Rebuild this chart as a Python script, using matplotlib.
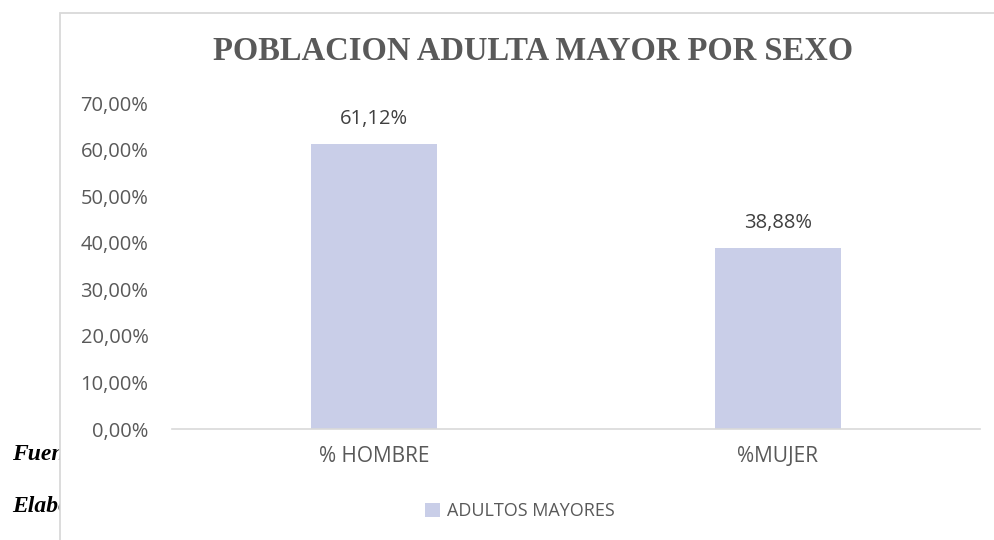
import matplotlib
matplotlib.use("Agg")
import matplotlib.pyplot as plt
from matplotlib.patches import Rectangle
from matplotlib.ticker import FuncFormatter

categories = ["% HOMBRE", "%MUJER"]
values = [0.6112, 0.3888]
value_labels = ["61,12%", "38,88%"]
y_ticks = [0.0, 0.1, 0.2, 0.3, 0.4, 0.5, 0.6, 0.7]
series_name = "ADULTOS MAYORES"
title = "POBLACION ADULTA MAYOR POR SEXO"
side_notes = ["Fuente:", "Elaboración:"]

W, H = 994, 540
bar_color = "#C9CEE8"
text_gray = "#595959"
frame_gray = "#D9D9D9"
sans = ["Open Sans", "DejaVu Sans"]

fig = plt.figure(figsize=(W / 100, H / 100), dpi=100)

# document text that sits behind the chart frame
for note, ypix in zip(side_notes, [454, 507]):
    fig.text(12 / W, 1 - ypix / H, note, fontsize=17, family="Liberation Serif",
             weight="bold", style="italic", color="black", va="center", zorder=0.2)

# chart area (white with light border), covers the notes
frame = Rectangle((60 / W, -0.1), 1.0, (H - 13) / H + 0.1, transform=fig.transFigure,
                  facecolor="white", edgecolor=frame_gray, linewidth=1.3, zorder=0.5)
fig.patches.append(frame)

ax = fig.add_axes([172 / W, (H - 429) / H, (980 - 172) / W, (429 - 103) / H], zorder=1)
ax.patch.set_alpha(0)

x = list(range(len(categories)))
bars = ax.bar(x, values, width=0.31, color=bar_color, label=series_name, zorder=2)
ax.set_xlim(-0.5, len(categories) - 0.5)
ax.set_ylim(0, 0.7)
ax.set_yticks(y_ticks)
ax.yaxis.set_major_formatter(FuncFormatter(lambda v, p: f"{v * 100:.2f}%".replace(".", ",")))
ax.set_xticks(x)
ax.set_xticklabels(categories)

for b, lab in zip(bars, value_labels):
    ax.annotate(lab, (b.get_x() + b.get_width() / 2, b.get_height()), xytext=(0, 11),
                textcoords="offset points", ha="center", va="bottom",
                fontsize=14.5, family=sans, color="#404040")

for s in ["top", "right", "left"]:
    ax.spines[s].set_visible(False)
ax.spines["bottom"].set_color(frame_gray)
ax.spines["bottom"].set_linewidth(1.2)
ax.tick_params(axis="both", length=0, labelcolor=text_gray)
ax.tick_params(axis="y", pad=17, labelsize=14.5)
ax.tick_params(axis="x", pad=12, labelsize=15)
for t in ax.get_xticklabels() + ax.get_yticklabels():
    t.set_family(sans)

fig.text(533 / W, 1 - 52 / H, title, ha="center", va="center", fontsize=23.5,
         family="Liberation Serif", weight="bold", color=text_gray, zorder=2)

leg = fig.legend(handles=[bars], labels=[series_name], loc="center",
                 bbox_to_anchor=(520 / W, 1 - 511 / H), frameon=False,
                 prop={"family": sans, "size": 13}, handlelength=0.8, handleheight=0.8,
                 handletextpad=0.4, labelcolor=text_gray)
leg.set_zorder(2)

fig.savefig("out.png", dpi=100)
